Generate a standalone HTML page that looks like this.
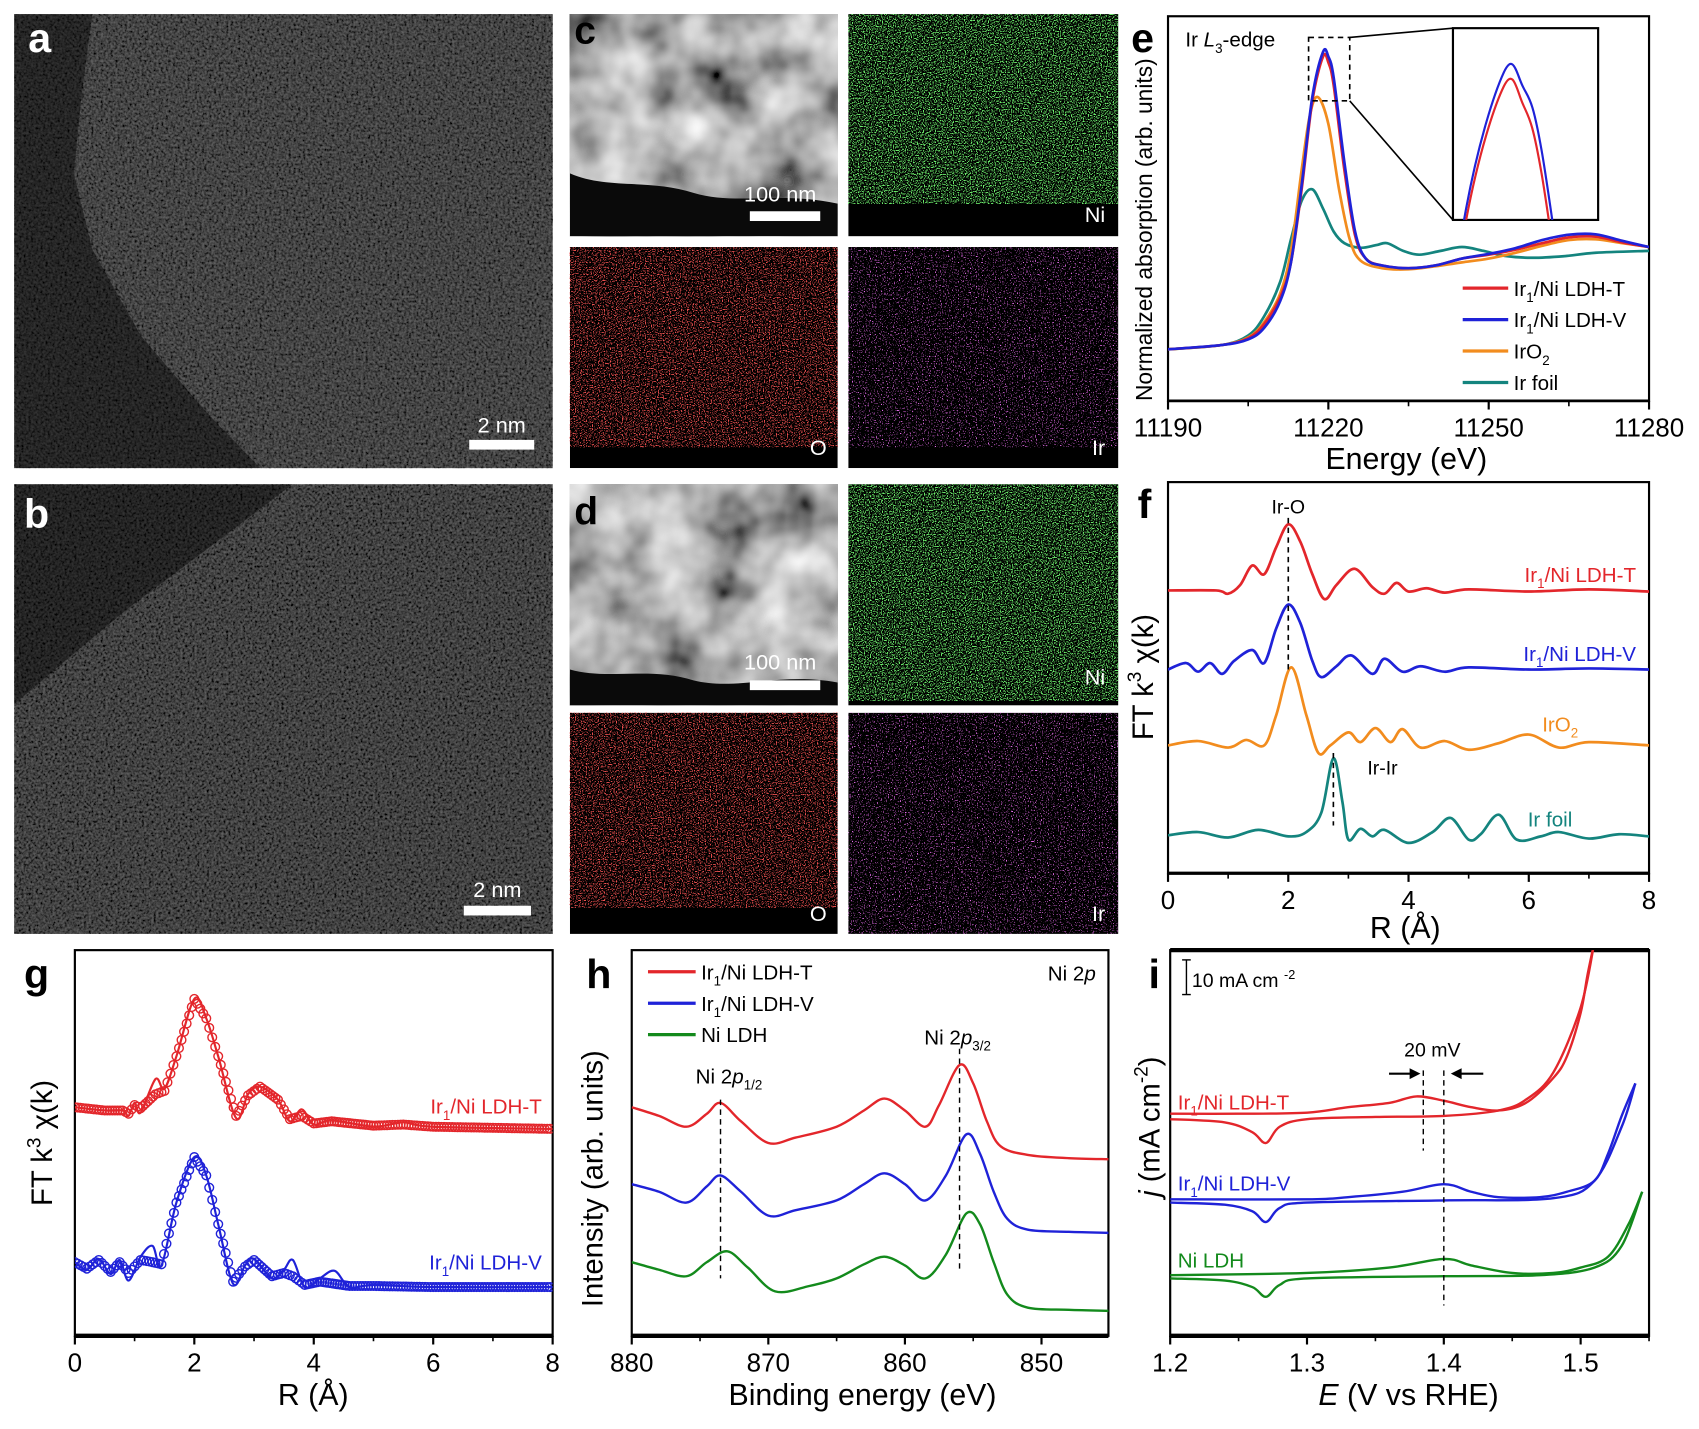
<!DOCTYPE html>
<html><head><meta charset="utf-8">
<style>
html,body{margin:0;padding:0;background:#fff;}
svg{display:block;font-family:"Liberation Sans",Arial,sans-serif;}
</style></head>
<body>
<svg id="fig" xmlns="http://www.w3.org/2000/svg" width="1699" height="1429" viewBox="0 0 1568 1319">
<defs>
  <filter id="stemNoise" x="0" y="0" width="100%" height="100%">
    <feTurbulence type="fractalNoise" baseFrequency="0.45" numOctaves="2" seed="3"/>
    <feColorMatrix type="matrix" values="0.9 0 0 0 -0.2  0.9 0 0 0 -0.2  0.9 0 0 0 -0.2  0 0 0 0 1"/>
  </filter>
  <filter id="stemNoise2" x="0" y="0" width="100%" height="100%">
    <feTurbulence type="fractalNoise" baseFrequency="0.45" numOctaves="2" seed="9"/>
    <feColorMatrix type="matrix" values="0.9 0 0 0 -0.22  0.9 0 0 0 -0.22  0.9 0 0 0 -0.22  0 0 0 0 1"/>
  </filter>
  <filter id="haadf" x="0" y="0" width="100%" height="100%">
    <feTurbulence type="fractalNoise" baseFrequency="0.02" numOctaves="3" seed="4"/>
    <feColorMatrix type="matrix" values="1.3 0 0 0 -0.2  1.3 0 0 0 -0.2  1.3 0 0 0 -0.2  0 0 0 0 1"/>
  </filter>
  <filter id="dotsG" x="0" y="0" width="100%" height="100%">
    <feTurbulence type="fractalNoise" baseFrequency="0.9" numOctaves="1" seed="5"/>
    <feColorMatrix type="matrix" values="0 0 0 0 0.15  0 0 0 0 0.85  0 0 0 0 0.15  9 0 0 0 -4.6"/>
  </filter>
  <filter id="dotsR" x="0" y="0" width="100%" height="100%">
    <feTurbulence type="fractalNoise" baseFrequency="0.9" numOctaves="1" seed="11"/>
    <feColorMatrix type="matrix" values="0 0 0 0 0.85  0 0 0 0 0.08  0 0 0 0 0.08  9 0 0 0 -4.8"/>
  </filter>
  <filter id="dotsM" x="0" y="0" width="100%" height="100%">
    <feTurbulence type="fractalNoise" baseFrequency="0.9" numOctaves="1" seed="17"/>
    <feColorMatrix type="matrix" values="0 0 0 0 0.8  0 0 0 0 0.15  0 0 0 0 0.85  12 0 0 0 -7.3"/>
  </filter>
  <clipPath id="clipA"><rect x="13" y="13" width="497" height="419"/></clipPath>
  <clipPath id="clipB"><rect x="13" y="447" width="497" height="415"/></clipPath>
</defs>

<!-- Panel a -->
<g>
  <rect x="13" y="13" width="497" height="419" fill="#000"/>
  <rect x="13" y="13" width="497" height="419" fill="#333" filter="url(#stemNoise)" opacity="0.5"/>
  <polygon clip-path="url(#clipA)" points="13,13 85,13 75,90 68,160 85,230 130,310 190,380 240,432 13,432" fill="#000" opacity="0.45"/>
  <text x="26" y="48" font-size="38" font-weight="bold" fill="#fff">a</text>
  <rect x="433" y="406" width="60" height="9" fill="#fff"/>
  <text x="463" y="399" font-size="20" fill="#fff" text-anchor="middle">2 nm</text>
</g>
<!-- Panel b -->
<g>
  <rect x="13" y="447" width="497" height="415" fill="#000"/>
  <rect x="13" y="447" width="497" height="415" fill="#333" filter="url(#stemNoise2)" opacity="0.5"/>
  <polygon clip-path="url(#clipB)" points="13,447 270,447 200,500 120,560 60,610 13,650" fill="#000" opacity="0.45"/>
  <text x="22" y="487" font-size="38" font-weight="bold" fill="#fff">b</text>
  <rect x="428" y="836" width="62" height="9" fill="#fff"/>
  <text x="459" y="828" font-size="20" fill="#fff" text-anchor="middle">2 nm</text>
</g>

<!-- Panel c -->
<g>
  <g>
    <rect x="526" y="13" width="247" height="205" fill="#aaa" filter="url(#haadf)"/>
    <path d="M526,160 C560,175 600,165 640,178 C680,190 720,176 773,188 L773,218 L526,218 Z" fill="#0a0a0a"/>
    <rect x="692" y="195" width="65" height="9" fill="#fff"/>
    <text x="720" y="186" font-size="20" fill="#fff" text-anchor="middle">100 nm</text>
    <text x="530" y="40" font-size="36" font-weight="bold" fill="#000">c</text>
  </g>
  <g>
    <rect x="783" y="13" width="249" height="205" fill="#000"/>
    <rect x="783" y="13" width="249" height="175" fill="#000" filter="url(#dotsG)"/>
    <text x="1020" y="205" font-size="20" fill="#fff" text-anchor="end">Ni</text>
  </g>
  <g>
    <rect x="526" y="228" width="247" height="204" fill="#000"/>
    <rect x="526" y="228" width="247" height="185" fill="#000" filter="url(#dotsR)"/>
    <text x="763" y="420" font-size="20" fill="#fff" text-anchor="end">O</text>
  </g>
  <g>
    <rect x="783" y="228" width="249" height="204" fill="#000"/>
    <rect x="783" y="228" width="249" height="185" fill="#000" filter="url(#dotsM)"/>
    <text x="1020" y="420" font-size="20" fill="#fff" text-anchor="end">Ir</text>
  </g>
</g>
<!-- Panel d -->
<g>
  <g>
    <rect x="526" y="447" width="247" height="204" fill="#bbb" filter="url(#haadf)"/>
    <path d="M526,618 C560,628 600,615 640,628 C680,638 720,620 773,630 L773,651 L526,651 Z" fill="#0a0a0a"/>
    <rect x="692" y="628" width="65" height="9" fill="#fff"/>
    <text x="720" y="618" font-size="20" fill="#fff" text-anchor="middle">100 nm</text>
    <text x="530" y="484" font-size="36" font-weight="bold" fill="#000">d</text>
  </g>
  <g>
    <rect x="783" y="447" width="249" height="204" fill="#000"/>
    <rect x="783" y="447" width="249" height="200" fill="#000" filter="url(#dotsG)"/>
    <text x="1020" y="632" font-size="20" fill="#fff" text-anchor="end">Ni</text>
  </g>
  <g>
    <rect x="526" y="658" width="247" height="204" fill="#000"/>
    <rect x="526" y="658" width="247" height="180" fill="#000" filter="url(#dotsR)"/>
    <text x="763" y="850" font-size="20" fill="#fff" text-anchor="end">O</text>
  </g>
  <g>
    <rect x="783" y="658" width="249" height="204" fill="#000"/>
    <rect x="783" y="658" width="249" height="204" fill="#000" filter="url(#dotsM)"/>
    <text x="1020" y="850" font-size="20" fill="#fff" text-anchor="end">Ir</text>
  </g>
</g>

<g id="charts"></g>
</svg>

<script>
// ---------- DATA ----------
// Panel e: XANES (energy eV, normalized absorption 0..1)
const eEnergyT = [11190,11200,11205,11208,11211,11213,11215,11217,11219,11220,11221,11223,11225,11227,11230,11235,11240,11245,11250,11255,11260,11265,11270,11275,11280];
const eValuesT = [0.134,0.145,0.163,0.2,0.27,0.36,0.55,0.78,0.895,0.88,0.82,0.6,0.43,0.37,0.352,0.345,0.352,0.37,0.38,0.393,0.41,0.425,0.427,0.412,0.4];
const eEnergyV = [11190,11200,11205,11208,11211,11213,11215,11217,11219,11220,11221,11223,11225,11227,11230,11235,11240,11245,11250,11255,11260,11265,11270,11275,11280];
const eValuesV = [0.134,0.145,0.16,0.19,0.26,0.36,0.56,0.79,0.907,0.895,0.84,0.62,0.44,0.37,0.352,0.345,0.352,0.37,0.382,0.397,0.418,0.432,0.433,0.416,0.4];
const eEnergyO = [11190,11200,11205,11208,11211,11213,11215,11216.5,11218,11220,11222,11224,11226,11230,11235,11240,11245,11250,11255,11260,11265,11270,11275,11280];
const eValuesO = [0.134,0.145,0.165,0.205,0.28,0.39,0.6,0.74,0.79,0.72,0.55,0.42,0.365,0.345,0.342,0.35,0.36,0.37,0.385,0.403,0.418,0.42,0.41,0.4];
const eEnergyF = [11190,11200,11205,11208,11211,11213,11215,11217,11219,11221,11223,11226,11229,11231,11234,11237,11241,11245,11249,11253,11258,11264,11270,11280];
const eValuesF = [0.134,0.145,0.17,0.22,0.31,0.42,0.52,0.55,0.5,0.44,0.41,0.398,0.405,0.41,0.39,0.38,0.39,0.4,0.39,0.377,0.372,0.376,0.385,0.39];
const eTicks = [11190,11220,11250,11280];
const eMinor = [11205,11235,11265];

// Panel f: FT-EXAFS (R in Å, offset-stacked magnitude, arb.)
const fR_T = [0,0.8,1.0,1.2,1.4,1.6,1.8,2.0,2.2,2.4,2.6,2.8,3.1,3.4,3.6,3.8,4.0,4.3,4.6,5.0,6,7,8];
const fV_T = [261,261,258,266,284,276,301,322,306,276,253,266,281,264,258,268,260,263,259,262,260,262,260];
const fR_V = [0,0.3,0.5,0.7,0.9,1.1,1.4,1.6,1.8,2.0,2.2,2.4,2.55,2.8,3.05,3.4,3.6,3.9,4.2,4.6,5,6,7,8];
const fV_V = [188,194,186,194,184,196,206,194,226,248,231,196,181,191,201,184,198,186,191,186,190,188,189,188];
const fR_O = [0,0.5,1.0,1.3,1.6,1.8,2.05,2.3,2.5,2.7,3.0,3.2,3.45,3.7,3.9,4.2,4.6,5,5.5,6.0,6.5,7,8];
const fV_O = [118,122,116,123,118,146,190,146,111,118,130,121,134,121,133,116,122,114,120,128,116,121,118];
const fR_F = [0,0.5,1.0,1.5,2.0,2.3,2.55,2.75,2.9,3.0,3.2,3.4,3.6,4.0,4.4,4.7,5.0,5.2,5.5,5.8,6.2,6.5,7,7.5,8];
const fV_F = [35,38,33,40,34,38,56,106,66,31,41,34,40,28,38,51,31,36,54,31,34,38,32,36,34];
const rTicks = [0,2,4,6,8];
const rMinor = [1,3,5,7];

// Panel g: EXAFS fitting (line = experiment, circles = fit)
const gR_T = [0,0.5,0.8,0.9,1.0,1.1,1.35,1.5,1.7,2.0,2.2,2.4,2.7,2.9,3.1,3.4,3.6,3.8,4.0,4.3,5,5.5,6,8];
const gLine_T = [211,208,208,203,215,206,237,228,258,311,293,258,201,223,230,218,198,209,195,199,193,197,193,191];
const gFit_T  = [211,208,208,205,213,210,223,226,258,311,293,258,203,222,230,218,200,203,196,198,194,195,193,191];
const gR_V = [0,0.2,0.4,0.6,0.75,0.9,1.1,1.3,1.45,1.7,2.0,2.2,2.4,2.65,2.85,3.0,3.3,3.5,3.65,3.85,4.1,4.35,4.6,5,6,8];
const gLine_V = [68,61,71,57,70,51,73,83,65,123,165,148,103,48,65,71,53,61,70,45,53,60,45,47,45,45];
const gFit_V  = [68,62,70,59,68,58,70,68,66,123,165,148,103,50,64,70,55,58,55,47,50,48,46,46,45,45];

// Panel h: XPS Ni 2p (binding energy eV, intensity arb.)
const hE = [880,878,876,874.5,873.5,872,870,868,865,863,861.5,860,858.5,857.5,856,855,854,853,851,848,845];
const hT = [211,203,193,205,215,198,178,183,193,208,219,208,193,213,250,233,198,175,167,164,163];
const hE_V = [880,878,876,874.5,873.5,872,870,868,865,863,861.5,860,858.5,857,855.5,854.5,853.5,852.5,851,848,845];
const hV = [140,133,123,138,148,133,111,116,125,140,150,140,125,148,186,168,133,108,98,96,95];
const hE_N = [880,878,876,874.5,873,871.5,869.5,867,865,863,861.5,860,858.5,857,855.5,854.5,853.5,852.5,851,848,845];
const hN = [68,61,55,68,78,63,41,46,53,66,73,65,53,75,113,103,68,38,26,24,23];
const hTicks = [880,870,860,850];
const hMinor = [875,865,855];

// Panel i: CV curves (potential V vs RHE, current arb. offset)
const iE_Tf = [1.2,1.25,1.3,1.33,1.36,1.38,1.40,1.42,1.44,1.46,1.48,1.49,1.50,1.505,1.51];
const iJ_Tf = [205,205,206,211,215,221,217,211,208,215,238,258,298,333,363];
const iE_Tr = [1.51,1.5,1.48,1.46,1.44,1.4,1.35,1.3,1.28,1.27,1.26,1.24,1.2];
const iJ_Tr = [363,303,243,218,208,203,202,200,193,178,188,197,200];
const iE_Vf = [1.2,1.3,1.33,1.37,1.40,1.42,1.44,1.47,1.49,1.51,1.52,1.53,1.54];
const iJ_Vf = [126,126,128,133,140,133,128,128,133,143,168,203,233];
const iE_Vr = [1.54,1.53,1.51,1.48,1.4,1.3,1.28,1.27,1.26,1.24,1.2];
const iJ_Vr = [233,193,143,127,125,123,118,105,115,121,123];
const iE_Nf = [1.2,1.3,1.36,1.40,1.42,1.45,1.48,1.5,1.52,1.535,1.545];
const iJ_Nf = [56,58,63,71,65,58,58,63,73,103,133];
const iE_Nr = [1.545,1.53,1.51,1.47,1.4,1.3,1.28,1.27,1.26,1.24,1.2];
const iJ_Nr = [133,83,63,56,55,53,47,36,45,51,53];
const iTicks = [1.2,1.3,1.4,1.5];
const iMinor = [1.25,1.35,1.45,1.55];

// ---------- DRAWING ----------
const NS = 'http://www.w3.org/2000/svg';
const root = document.getElementById('charts');
function mk(tag, attrs, parent){
  const e = document.createElementNS(NS, tag);
  for (const k in attrs) e.setAttribute(k, attrs[k]);
  (parent || root).appendChild(e);
  return e;
}
function smooth(pts){
  if (!pts.length) return '';
  let d = 'M' + pts[0][0].toFixed(2) + ',' + pts[0][1].toFixed(2);
  for (let i = 0; i < pts.length - 1; i++){
    const p0 = pts[i-1] || pts[i], p1 = pts[i], p2 = pts[i+1], p3 = pts[i+2] || p2;
    const c1x = p1[0] + (p2[0]-p0[0])/6, c1y = p1[1] + (p2[1]-p0[1])/6;
    const c2x = p2[0] - (p3[0]-p1[0])/6, c2y = p2[1] - (p3[1]-p1[1])/6;
    d += 'C' + c1x.toFixed(2)+','+c1y.toFixed(2)+' '+c2x.toFixed(2)+','+c2y.toFixed(2)+' '+p2[0].toFixed(2)+','+p2[1].toFixed(2);
  }
  return d;
}
function makeAxes(c){
  c.sx = v => c.x0 + (v - c.xd[0])/(c.xd[1]-c.xd[0])*(c.x1-c.x0);
  c.sy = v => c.y1 - (v - c.yd[0])/(c.yd[1]-c.yd[0])*(c.y1-c.y0);
  const g = mk('g', {});
  
  
  const cp = mk('clipPath', {id: 'clip-' + c.name}, g);
  mk('rect', {x: c.x0, y: c.y0, width: c.x1-c.x0, height: c.y1-c.y0}, cp);
  const frame = mk('rect', {x: c.x0, y: c.y0, width: c.x1-c.x0, height: c.y1-c.y0, fill: 'none', stroke: '#000', 'stroke-width': 2}, g);
  
  
  const xa = mk('line', {x1: c.x0, x2: c.x1, y1: c.y1, y2: c.y1, stroke: '#000', 'stroke-width': c.thick || 3}, g);
  
  
  if (c.thickTop){ mk('line', {x1: c.x0, x2: c.x1, y1: c.y0, y2: c.y0, stroke: '#000', 'stroke-width': 4}, g); }
  c.ticks.forEach((t, i) => {
    const x = c.sx(t);
    mk('line', {x1: x, x2: x, y1: c.y1, y2: c.y1 + 8, stroke: '#000', 'stroke-width': 2}, g);
    const lb = mk('text', {x: x, y: c.y1 + 33, 'font-size': 24, 'text-anchor': 'middle'}, g);
    lb.textContent = c.labels ? c.labels[i] : String(t);
    
    
  });
  c.minor.forEach(t => {
    const x = c.sx(t);
    if (x <= c.x1 + 0.5) mk('line', {x1: x, x2: x, y1: c.y1, y2: c.y1 + 5, stroke: '#000', 'stroke-width': 1.5}, g);
  });
  c.g = g;
  return c;
}
function series(c, xs, ys, color, name, width){
  const pts = xs.map((x, i) => [c.sx(x), c.sy(ys[i])]);
  const p = mk('path', {d: smooth(pts), fill: 'none', stroke: color, 'stroke-width': width || 2.5, 'clip-path': 'url(#clip-' + c.name + ')', 'stroke-linejoin': 'round'}, c.g);
  
  
  return p;
}
function txt(parent, x, y, size, str, opts){
  const t = mk('text', Object.assign({x: x, y: y, 'font-size': size}, opts || {}), parent);
  t.textContent = str;
  return t;
}
function subText(parent, x, y, size, parts, opts){
  const t = mk('text', Object.assign({x: x, y: y, 'font-size': size}, opts || {}), parent);
  let shift = 0;
  parts.forEach(p => {
    const s = document.createElementNS(NS, 'tspan');
    let target = 0;
    if (p[1] === 'sub') { target = size*0.3; s.setAttribute('font-size', size*0.65); }
    if (p[1] === 'sup') { target = -size*0.4; s.setAttribute('font-size', size*0.65); }
    if (p[1] === 'it') s.setAttribute('font-style', 'italic');
    s.setAttribute('dy', target - shift);
    shift = target;
    s.textContent = p[0];
    t.appendChild(s);
  });
  return t;
}
const RED = '#e3262b', BLUE = '#1f22d8', ORANGE = '#f28c1e', TEAL = '#14847e', GREEN = '#138a1c';

// ----- Panel e -----
const ce = makeAxes({name: 'chart-e-xanes', x0: 1078, x1: 1522, y0: 15, y1: 370, xd: [11190, 11280], yd: [0, 1], ticks: eTicks, minor: eMinor, thick: 2.5});
series(ce, eEnergyF, eValuesF, TEAL, 'series-ir-foil');
series(ce, eEnergyO, eValuesO, ORANGE, 'series-iro2');
series(ce, eEnergyT, eValuesT, RED, 'series-ir1-ni-ldh-t');
series(ce, eEnergyV, eValuesV, BLUE, 'series-ir1-ni-ldh-v');
txt(ce.g, 1044, 48, 38, 'e', {'font-weight': 'bold'});
subText(ce.g, 1094, 43, 19, [['Ir ', 'n'], ['L', 'it'], ['3', 'sub'], ['-edge', 'n']]);
const eyt = txt(ce.g, 0, 0, 21, 'Normalized absorption (arb. units)', {transform: 'translate(1063,212) rotate(-90)', 'text-anchor': 'middle'});

const ext = txt(ce.g, 1298, 433, 28, 'Energy (eV)', {'text-anchor': 'middle'});

// zoom box & inset
const zx0 = 11216.3, zx1 = 11224.0, zy0 = 0.78, zy1 = 0.945;
const bx0 = ce.sx(zx0), bx1 = ce.sx(zx1), by0 = ce.sy(zy1), by1 = ce.sy(zy0);
const zb = mk('rect', {x: bx0, y: by0, width: bx1-bx0, height: by1-by0, fill: 'none', stroke: '#000', 'stroke-width': 1.5, 'stroke-dasharray': '5,4'}, ce.g);


const inset = {name: 'inset-e', x0: 1341, x1: 1475, y0: 26, y1: 203, xd: [zx0, zx1], yd: [zy0, zy1]};
inset.sx = v => inset.x0 + (v - inset.xd[0])/(inset.xd[1]-inset.xd[0])*(inset.x1-inset.x0);
inset.sy = v => inset.y1 - (v - inset.yd[0])/(inset.yd[1]-inset.yd[0])*(inset.y1-inset.y0);
mk('line', {x1: bx1, y1: by0, x2: inset.x0, y2: inset.y0, stroke: '#000', 'stroke-width': 1.5}, ce.g);
mk('line', {x1: bx1, y1: by1, x2: inset.x0, y2: inset.y1, stroke: '#000', 'stroke-width': 1.5}, ce.g);
mk('rect', {x: inset.x0, y: inset.y0, width: inset.x1-inset.x0, height: inset.y1-inset.y0, fill: '#fff', stroke: '#000', 'stroke-width': 2}, ce.g);
const icp = mk('clipPath', {id: 'clip-inset-e'}, ce.g);
mk('rect', {x: inset.x0, y: inset.y0, width: inset.x1-inset.x0, height: inset.y1-inset.y0}, icp);
[[eEnergyT, eValuesT, RED, 'inset-series-t'], [eEnergyV, eValuesV, BLUE, 'inset-series-v']].forEach(s => {
  const pts = s[0].map((x, i) => [inset.sx(x), inset.sy(s[1][i])]);
  const p = mk('path', {d: smooth(pts), fill: 'none', stroke: s[2], 'stroke-width': 2, 'clip-path': 'url(#clip-inset-e)'}, ce.g);
  
  
});
// legend e
const eLeg = [['Ir', '1', '/Ni LDH-T', RED], ['Ir', '1', '/Ni LDH-V', BLUE], ['IrO', '2', '', ORANGE], ['Ir foil', '', '', TEAL]];
eLeg.forEach((l, i) => {
  const y = 266 + i*29;
  const lg = mk('g', {}, ce.g);
  
  
  mk('line', {x1: 1350, x2: 1392, y1: y, y2: y, stroke: l[3], 'stroke-width': 3}, lg);
  subText(lg, 1397, y + 7, 19, [[l[0], 'n'], [l[1], 'sub'], [l[2], 'n']]);
});

// ----- Panel f -----
const cf = makeAxes({name: 'chart-f-ft-exafs', x0: 1078, x1: 1522, y0: 445, y1: 806, xd: [0, 8], yd: [0, 361], ticks: rTicks, minor: rMinor, thick: 3});
series(cf, fR_T, fV_T, RED, 'series-f-ir1-ni-ldh-t');
series(cf, fR_V, fV_V, BLUE, 'series-f-ir1-ni-ldh-v');
series(cf, fR_O, fV_O, ORANGE, 'series-f-iro2');
series(cf, fR_F, fV_F, TEAL, 'series-f-ir-foil');
txt(cf.g, 1050, 478, 38, 'f', {'font-weight': 'bold'});
mk('line', {x1: cf.sx(2), x2: cf.sx(2), y1: 478, y2: 620, stroke: '#000', 'stroke-width': 1.5, 'stroke-dasharray': '5,4'}, cf.g);
mk('line', {x1: cf.sx(2.75), x2: cf.sx(2.75), y1: 695, y2: 762, stroke: '#000', 'stroke-width': 1.5, 'stroke-dasharray': '5,4'}, cf.g);
txt(cf.g, cf.sx(2), 474, 18, 'Ir-O', {'text-anchor': 'middle'});
txt(cf.g, 1262, 715, 18, 'Ir-Ir');
subText(cf.g, 1510, 537, 19, [['Ir', 'n'], ['1', 'sub'], ['/Ni LDH-T', 'n']], {fill: RED, 'text-anchor': 'end'});
subText(cf.g, 1510, 610, 19, [['Ir', 'n'], ['1', 'sub'], ['/Ni LDH-V', 'n']], {fill: BLUE, 'text-anchor': 'end'});
subText(cf.g, 1440, 675, 19, [['IrO', 'n'], ['2', 'sub']], {fill: ORANGE, 'text-anchor': 'middle'});
txt(cf.g, 1410, 763, 19, 'Ir  foil', {fill: TEAL, 'xml:space': 'preserve'});
subText(cf.g, 0, 0, 27, [['FT k', 'n'], ['3', 'sup'], [' χ(k)', 'n']], {transform: 'translate(1064,625) rotate(-90)', 'text-anchor': 'middle'});
txt(cf.g, 1297, 866, 28, 'R (Å)', {'text-anchor': 'middle'});

// ----- Panel g -----
const cg = makeAxes({name: 'chart-g-exafs-fit', x0: 69, x1: 510, y0: 877, y1: 1233, xd: [0, 8], yd: [0, 356], ticks: rTicks, minor: rMinor, thick: 4});
function circles(c, xs, ys, color, name){
  const grp = mk('g', {'clip-path': 'url(#clip-' + c.name + ')'}, c.g);
  
  
  for (let k = 0; k < xs.length - 1; k++){
    const n = Math.max(1, Math.round((xs[k+1]-xs[k]) / 0.045));
    for (let j = 0; j < n; j++){
      const t = j / n;
      const x = xs[k] + t*(xs[k+1]-xs[k]);
      const y = ys[k] + t*(ys[k+1]-ys[k]);
      mk('circle', {cx: c.sx(x), cy: c.sy(y), r: 4, fill: 'none', stroke: color, 'stroke-width': 1.3}, grp);
    }
  }
}
circles(cg, gR_T, gFit_T, RED, 'fit-circles-t');
circles(cg, gR_V, gFit_V, BLUE, 'fit-circles-v');
series(cg, gR_T, gLine_T, RED, 'series-g-ir1-ni-ldh-t', 2);
series(cg, gR_V, gLine_V, BLUE, 'series-g-ir1-ni-ldh-v', 2);
txt(cg.g, 22, 912, 38, 'g', {'font-weight': 'bold'});
subText(cg.g, 500, 1028, 19, [['Ir', 'n'], ['1', 'sub'], ['/Ni LDH-T', 'n']], {fill: RED, 'text-anchor': 'end'});
subText(cg.g, 500, 1172, 19, [['Ir', 'n'], ['1', 'sub'], ['/Ni LDH-V', 'n']], {fill: BLUE, 'text-anchor': 'end'});
subText(cg.g, 0, 0, 27, [['FT k', 'n'], ['3', 'sup'], [' χ(k)', 'n']], {transform: 'translate(48,1055) rotate(-90)', 'text-anchor': 'middle'});
txt(cg.g, 289, 1297, 28, 'R (Å)', {'text-anchor': 'middle'});

// ----- Panel h -----
const ch = makeAxes({name: 'chart-h-xps', x0: 583, x1: 1023, y0: 877, y1: 1233, xd: [880, 845.1], yd: [0, 356], ticks: hTicks, minor: hMinor, thick: 4});
series(ch, hE, hT, RED, 'series-h-ir1-ni-ldh-t', 2.2);
series(ch, hE_V, hV, BLUE, 'series-h-ir1-ni-ldh-v', 2.2);
series(ch, hE_N, hN, GREEN, 'series-h-ni-ldh', 2.2);
mk('line', {x1: ch.sx(873.5), x2: ch.sx(873.5), y1: 1015, y2: 1180, stroke: '#000', 'stroke-width': 1.3, 'stroke-dasharray': '5,4'}, ch.g);
mk('line', {x1: ch.sx(856), x2: ch.sx(856), y1: 968, y2: 1172, stroke: '#000', 'stroke-width': 1.3, 'stroke-dasharray': '5,4'}, ch.g);
subText(ch.g, 642, 1000, 19, [['Ni 2', 'n'], ['p', 'it'], ['1/2', 'sub']]);
subText(ch.g, 853, 964, 19, [['Ni 2', 'n'], ['p', 'it'], ['3/2', 'sub']]);
subText(ch.g, 967, 905, 19, [['Ni 2', 'n'], ['p', 'it']]);
txt(ch.g, 541, 912, 38, 'h', {'font-weight': 'bold'});
[['Ir', '1', '/Ni LDH-T', RED], ['Ir', '1', '/Ni LDH-V', BLUE], ['Ni LDH', '', '', GREEN]].forEach((l, i) => {
  const y = 897 + i*29;
  const lg = mk('g', {}, ch.g);
  
  
  mk('line', {x1: 598, x2: 642, y1: y, y2: y, stroke: l[3], 'stroke-width': 3}, lg);
  subText(lg, 647, y + 7, 19, [[l[0], 'n'], [l[1], 'sub'], [l[2], 'n']]);
});
txt(ch.g, 0, 0, 27, 'Intensity (arb. units)', {transform: 'translate(556,1088) rotate(-90)', 'text-anchor': 'middle'});
txt(ch.g, 796, 1297, 28, 'Binding energy (eV)', {'text-anchor': 'middle'});

// ----- Panel i -----
const ci = makeAxes({name: 'chart-i-cv', x0: 1080, x1: 1522, y0: 877, y1: 1233, xd: [1.2, 1.55], yd: [0, 356], ticks: iTicks, minor: iMinor, thick: 4, thickTop: true});
series(ci, iE_Tf, iJ_Tf, RED, 'series-i-t-forward', 2.2);
series(ci, iE_Tr, iJ_Tr, RED, 'series-i-t-reverse', 2.2);
series(ci, iE_Vf, iJ_Vf, BLUE, 'series-i-v-forward', 2.2);
series(ci, iE_Vr, iJ_Vr, BLUE, 'series-i-v-reverse', 2.2);
series(ci, iE_Nf, iJ_Nf, GREEN, 'series-i-ni-forward', 2.2);
series(ci, iE_Nr, iJ_Nr, GREEN, 'series-i-ni-reverse', 2.2);
mk('line', {x1: ci.sx(1.385), x2: ci.sx(1.385), y1: 988, y2: 1062, stroke: '#000', 'stroke-width': 1.3, 'stroke-dasharray': '5,4'}, ci.g);
mk('line', {x1: ci.sx(1.40), x2: ci.sx(1.40), y1: 988, y2: 1205, stroke: '#000', 'stroke-width': 1.3, 'stroke-dasharray': '5,4'}, ci.g);
mk('line', {x1: 1282, x2: 1303, y1: 991, y2: 991, stroke: '#000', 'stroke-width': 2}, ci.g);
mk('polygon', {points: '1311,991 1301,986 1301,996', fill: '#000'}, ci.g);
mk('line', {x1: 1369, x2: 1347, y1: 991, y2: 991, stroke: '#000', 'stroke-width': 2}, ci.g);
mk('polygon', {points: '1339,991 1349,986 1349,996', fill: '#000'}, ci.g);
txt(ci.g, 1322, 975, 18, '20 mV', {'text-anchor': 'middle'});
mk('line', {x1: 1095, x2: 1095, y1: 886, y2: 918, stroke: '#000', 'stroke-width': 1.3}, ci.g);
mk('line', {x1: 1091, x2: 1099, y1: 886, y2: 886, stroke: '#000', 'stroke-width': 1.3}, ci.g);
mk('line', {x1: 1091, x2: 1099, y1: 918, y2: 918, stroke: '#000', 'stroke-width': 1.3}, ci.g);
subText(ci.g, 1100, 911, 18, [['10 mA cm ', 'n'], ['-2', 'sup']]);
txt(ci.g, 1060, 912, 38, 'i', {'font-weight': 'bold'});
subText(ci.g, 1087, 1024, 19, [['Ir', 'n'], ['1', 'sub'], ['/Ni LDH-T', 'n']], {fill: RED});
subText(ci.g, 1087, 1099, 19, [['Ir', 'n'], ['1', 'sub'], ['/Ni LDH-V', 'n']], {fill: BLUE});
txt(ci.g, 1087, 1170, 19, 'Ni LDH', {fill: GREEN});
subText(ci.g, 0, 0, 27, [['j', 'it'], [' (mA cm', 'n'], ['-2', 'sup'], [')', 'n']], {transform: 'translate(1070,1040) rotate(-90)', 'text-anchor': 'middle'});
subText(ci.g, 1300, 1297, 28, [['E', 'it'], [' (V vs RHE)', 'n']], {'text-anchor': 'middle'});
</script>
</body></html>
